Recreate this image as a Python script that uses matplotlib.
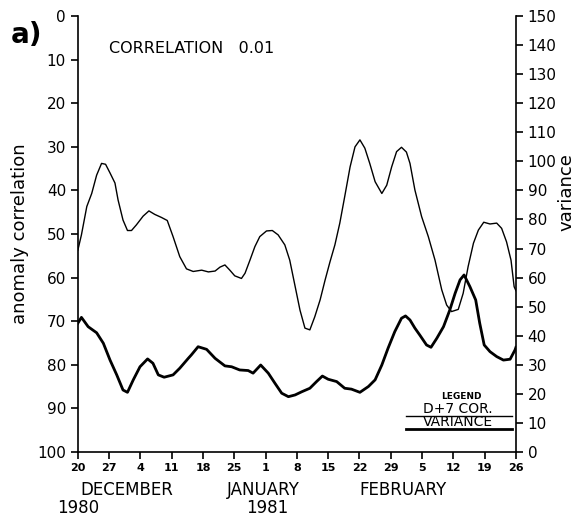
import matplotlib
matplotlib.use("Agg")
import matplotlib.pyplot as plt

# days since 20 Nov 1980
cor_days = [0, 0.8, 2.0, 3.1, 4.2, 5.3, 6.2, 7.2, 8.3, 9.0, 10.1, 11.1, 12.0, 13.1,
            14.6, 15.9, 17.2, 18.7, 20.0, 21.3, 22.8, 24.3, 25.8, 27.7, 29.2, 30.7,
            31.8, 32.9, 34.0, 35.1, 36.6, 37.4, 38.5, 39.6, 40.7, 42.2, 43.5, 44.8,
            46.3, 47.4, 48.6, 49.7, 50.8, 51.9, 53.0, 54.2, 55.3, 56.4, 57.5, 58.6,
            59.7, 60.9, 62.0, 63.1, 64.2, 65.3, 66.5, 68.0, 69.1, 70.2, 71.3, 72.4,
            73.5, 74.3, 75.4, 76.9, 78.4, 79.9, 81.4, 82.5, 83.6, 85.1, 86.2, 87.3,
            88.5, 89.6, 90.8, 92.2, 93.7, 94.8, 95.9, 96.9, 97.6, 98]
cor_vals = [53.7, 50.2, 43.7, 40.7, 36.5, 33.8, 34.0, 36.0, 38.3, 42.2, 46.8, 49.2, 49.2, 47.9,
            45.9, 44.7, 45.5, 46.2, 46.9, 50.6, 55.2, 58.0, 58.6, 58.3, 58.7, 58.5,
            57.6, 57.1, 58.3, 59.6, 60.2, 59.0, 56.0, 52.9, 50.6, 49.3, 49.2, 50.2,
            52.5, 56.0, 62.0, 67.5, 71.6, 72.0, 69.0, 65.1, 60.6, 56.4, 52.5, 47.5,
            41.4, 34.6, 30.0, 28.4, 30.3, 33.8, 38.0, 40.7, 38.8, 34.6, 31.1, 30.1,
            31.2, 33.8, 39.9, 46.0, 50.6, 56.0, 62.8, 66.3, 67.8, 67.3, 63.6, 57.5,
            52.1, 49.1, 47.3, 47.7, 47.5, 48.7, 51.8, 56.0, 62.1, 63.0]

var_days = [0, 0.8, 2.3, 4.2, 5.7, 7.2, 8.7, 10.1, 11.1, 12.4, 13.9, 15.6, 16.8, 18.0,
            19.3, 21.3, 22.8, 24.7, 25.4, 26.9, 28.8, 30.7, 32.9, 34.4, 36.2, 38.1,
            39.2, 40.9, 42.6, 44.1, 45.6, 47.1, 48.6, 50.1, 51.9, 53.4, 54.7, 56.0,
            57.9, 59.7, 61.2, 63.1, 65.0, 66.5, 68.0, 69.4, 70.9, 72.4, 73.3, 74.3,
            75.4, 76.5, 78.0, 79.0, 80.3, 81.8, 83.2, 84.4, 85.5, 86.4, 87.7, 89.0,
            89.9, 90.9, 92.2, 93.7, 95.2, 96.7, 97.8, 98]
var_vals = [44.3, 46.3, 43.1, 41.0, 37.4, 31.6, 26.5, 21.3, 20.5, 24.8, 29.3, 32.0, 30.5, 26.5,
            25.7, 26.5, 28.8, 32.2, 33.4, 36.2, 35.3, 32.2, 29.6, 29.3, 28.2, 28.0,
            27.1, 29.9, 27.1, 23.6, 20.2, 19.0, 19.6, 20.7, 21.9, 24.2, 26.1, 25.0,
            24.2, 21.9, 21.6, 20.5, 22.5, 24.8, 29.9, 35.7, 41.4, 46.0, 46.8, 45.4,
            42.6, 40.2, 36.8, 36.0, 39.1, 43.1, 48.8, 54.6, 59.2, 60.9, 56.9, 52.3,
            44.3, 36.8, 34.5, 32.8, 31.6, 31.9, 35.1, 36.0]

tick_days = [0, 7, 14, 21, 28, 35, 42, 49, 56, 63, 70, 77, 84, 91, 98]
tick_labels = ["20", "27", "4", "11", "18", "25", "1", "8", "15", "22", "29",
               "5", "12", "19", "26"]
months = ["DECEMBER", "JANUARY", "FEBRUARY"]
month_days = [11.0, 41.4, 72.7]
years = ["1980", "1981"]
year_days = [0.0, 42.3]

fig = plt.figure(figsize=(5.81, 5.20), dpi=100)
ax = fig.add_axes([0.134, 0.131, 0.754, 0.838])
ax2 = ax.twinx()

ax.plot(cor_days, cor_vals, color="black", lw=1.0)
ax2.plot(var_days, var_vals, color="black", lw=2.0)

ax.set_xlim(0, 98)
ax.set_ylim(100, 0)
ax2.set_ylim(0, 150)

ax.set_yticks(range(0, 101, 10))
ax2.set_yticks(range(0, 151, 10))
ax.set_xticks(tick_days)
ax.set_xticklabels(tick_labels, fontsize=8, fontweight="bold")
ax.tick_params(axis="y", labelsize=11, direction="out", length=5, width=1.2)
ax2.tick_params(axis="y", labelsize=11, direction="out", length=5, width=1.2)
ax.tick_params(axis="x", direction="out", length=5, width=1.2, pad=3)

ax.spines["top"].set_visible(False)
ax.spines["right"].set_visible(False)
for s in ["top", "left", "bottom"]:
    ax2.spines[s].set_visible(False)
for s in [ax.spines["left"], ax.spines["bottom"], ax2.spines["right"]]:
    s.set_linewidth(1.2)

ax.set_ylabel("anomaly correlation", fontsize=13, labelpad=6)
fig.text(0.975, 0.63, "variance", rotation=90, fontsize=13, ha="center", va="center")

xt = ax.get_xaxis_transform()
for m, d in zip(months, month_days):
    ax.text(d, -0.087, m, transform=xt, ha="center", va="center", fontsize=12)
for y, d in zip(years, year_days):
    ax.text(d, -0.128, y, transform=xt, ha="center", va="center", fontsize=12)

fig.text(0.045, 0.933, "a)", fontsize=20, fontweight="bold", ha="center", va="center")
ax.text(0.07, 0.925, "CORRELATION   0.01", transform=ax.transAxes, fontsize=11.5,
        ha="left", va="center")

# legend box drawn by hand
ax.text(0.875, 0.126, "LEGEND", transform=ax.transAxes, fontsize=6.5,
        fontweight="bold", ha="center", va="center")
ax.text(0.868, 0.098, "D+7 COR.", transform=ax.transAxes, fontsize=10,
        ha="center", va="center")
ax.plot([0.75, 0.99], [0.083, 0.083], transform=ax.transAxes, color="black", lw=1.0)
ax.text(0.868, 0.068, "VARIANCE", transform=ax.transAxes, fontsize=10,
        ha="center", va="center")
ax.plot([0.75, 0.99], [0.053, 0.053], transform=ax.transAxes, color="black", lw=2.0)

fig.savefig("out.png", dpi=100)
